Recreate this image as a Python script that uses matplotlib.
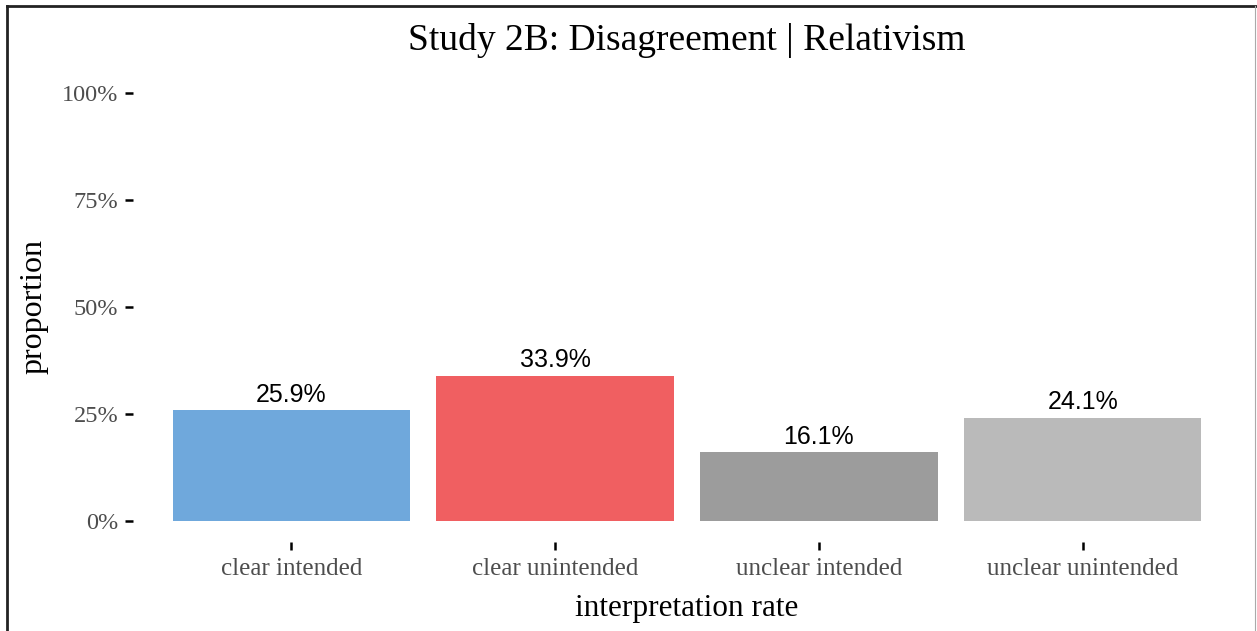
import matplotlib.pyplot as plt
from matplotlib.lines import Line2D
from matplotlib.ticker import PercentFormatter

categories = ["clear intended", "clear unintended", "unclear intended", "unclear unintended"]
proportions = [0.259, 0.339, 0.161, 0.241]
bar_labels = ["25.9%", "33.9%", "16.1%", "24.1%"]
bar_colors = ["#6FA8DC", "#F05F61", "#9C9C9C", "#BABABA"]
y_ticks = [0, 0.25, 0.5, 0.75, 1.0]

serif = ["Liberation Serif", "DejaVu Serif"]
sans = ["Liberation Sans", "DejaVu Sans"]

fig = plt.figure(figsize=(12.57, 6.31), dpi=100)
ax = fig.add_axes([133 / 1257, 1 - 542.4 / 631, (1241 - 133) / 1257, (542.4 - 71.6) / 631])

x = list(range(1, len(categories) + 1))
ax.bar(x, proportions, width=0.9, color=bar_colors)
for xi, p, lab in zip(x, proportions, bar_labels):
    ax.annotate(lab, (xi, p), xytext=(0, 2.5), textcoords="offset points",
                ha="center", va="bottom", fontsize=18, family=sans, color="black")

ax.set_xlim(0.4, 4.6)
ax.set_ylim(-0.05, 1.05)
ax.set_xticks(x)
ax.set_xticklabels(categories, family=serif, fontsize=18, color="#4d4d4d")
ax.set_yticks(y_ticks)
ax.yaxis.set_major_formatter(PercentFormatter(1.0, decimals=0))
for t in ax.get_yticklabels():
    t.set_family(serif)
    t.set_fontsize(17.5)
    t.set_color("#4d4d4d")
ax.tick_params(axis="y", length=5.5, width=1.8, color="black", pad=5)
ax.tick_params(axis="x", length=5.5, width=1.8, color="black", pad=6)

for s in ax.spines.values():
    s.set_visible(False)

ax.set_title("Study 2B: Disagreement | Relativism", family=serif, fontsize=27, pad=15.5)
ax.set_ylabel("proportion", family=serif, fontsize=23, labelpad=10)
ax.set_xlabel("interpretation rate", family=serif, fontsize=22.5, labelpad=10)

# frame around the figure
fig.add_artist(Line2D([7 / 1257, 7 / 1257], [0, 1 - 6 / 631], transform=fig.transFigure,
                      color="#222222", lw=2))
fig.add_artist(Line2D([7 / 1257, 1], [1 - 6 / 631, 1 - 6 / 631], transform=fig.transFigure,
                      color="#222222", lw=2))
fig.add_artist(Line2D([1255 / 1257, 1255 / 1257], [0, 1 - 6 / 631], transform=fig.transFigure,
                      color="#aaaaaa", lw=0.8))

fig.savefig("out.png", dpi=100)
